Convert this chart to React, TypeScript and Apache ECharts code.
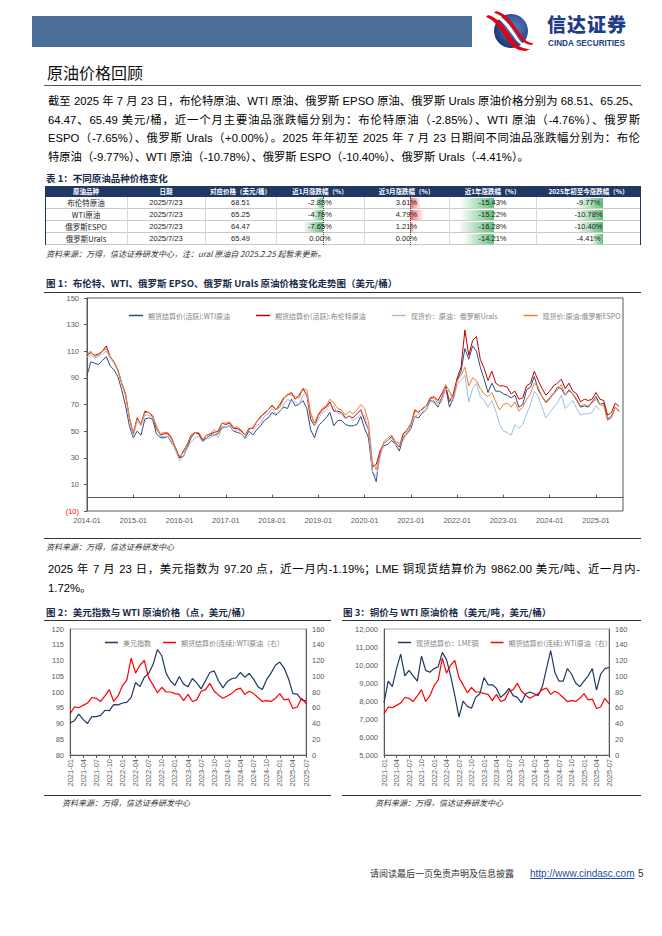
import React, { useEffect, useRef } from "react";
import * as echarts from "echarts";

// ---------- table data ----------
const oilNames = ["布伦特原油", "WTI原油", "俄罗斯ESPO", "俄罗斯Urals"];
const oilDates = ["2025/7/23", "2025/7/23", "2025/7/23", "2025/7/23"];
const oilPrices = ["68.51", "65.25", "64.47", "65.49"];
const chg1m = [-2.85, -4.76, -7.65, 0.0];
const chg3m = [3.61, 4.79, 1.21, 0.0];
const chg1y = [-15.43, -15.22, -16.28, -14.21];
const chgYtd = [-9.77, -10.78, -10.4, -4.41];
const tableHeaders = ["原油品种", "日期", "对应价格（美元/桶）", "近1月涨跌幅（%）", "近3月涨跌幅（%）", "近1年涨跌幅（%）", "2025年初至今涨跌幅（%）"];

// ---------- figure 1 data (monthly, 2014-01 .. 2025-07) ----------
const mainMonths: string[] = [];
for (let y = 2014; y <= 2025; y++) {
  for (let m = 1; m <= 12; m++) {
    if (y === 2025 && m > 8) break;
    mainMonths.push(`${y}-${m < 10 ? "0" + m : m}`);
  }
}
const mainYTicks = [-10, 10, 30, 50, 70, 90, 110, 130, 150];
const wti = [
  92, 102, 101, 100, 103, 106, 99, 96, 91, 81, 69, 54,
  45, 50, 47, 59, 60, 59, 48, 45, 45, 46, 41, 37,
  30, 31, 38, 45, 49, 48, 42, 45, 47, 47, 48, 53,
  53, 54, 50, 49, 48, 45, 50, 47, 51, 54, 58, 60,
  64, 62, 65, 68, 67, 74, 69, 70, 73, 67, 51, 45,
  54, 57, 60, 64, 54, 58, 58, 55, 54, 54, 55, 61,
  52, 45, 20, 12, 35, 39, 40, 43, 40, 35, 45, 48,
  52, 61, 60, 64, 66, 73, 72, 68, 75, 83, 68, 75,
  88, 95, 112, 104, 114, 110, 98, 89, 79, 86, 80, 80,
  78, 77, 75, 77, 68, 70, 81, 83, 91, 81, 76, 72,
  75, 78, 83, 82, 77, 81, 78, 73, 68, 69, 68, 72,
  76, 70, 71, 59, 61, 68, 65.25,
];
const brent = [
  107, 109, 107, 108, 110, 114, 106, 102, 96, 86, 78, 60,
  48, 60, 55, 65, 64, 61, 52, 47, 48, 48, 44, 37,
  30, 35, 40, 47, 49, 48, 43, 47, 48, 49, 50, 56,
  55, 56, 52, 52, 50, 47, 52, 52, 57, 61, 63, 66,
  69, 66, 70, 75, 77, 79, 74, 77, 82, 77, 59, 54,
  62, 66, 68, 72, 65, 65, 64, 60, 61, 60, 63, 66,
  58, 51, 23, 25, 35, 41, 43, 46, 41, 38, 48, 51,
  55, 66, 64, 67, 69, 75, 76, 73, 78, 84, 72, 78,
  90, 98, 126, 107, 118, 121, 104, 97, 88, 95, 86, 84,
  84, 83, 78, 80, 74, 75, 84, 86, 95, 88, 82, 77,
  80, 84, 86, 89, 82, 86, 80, 78, 72, 74, 73, 74,
  79, 74, 73, 62, 64, 71, 68.51,
];
const urals = [
  106, 107, 105, 106, 108, 110, 105, 101, 95, 85, 77, 59,
  46, 57, 54, 62, 62, 60, 54, 46, 46, 46, 42, 35,
  28, 31, 37, 42, 45, 46, 42, 44, 45, 48, 45, 52,
  53, 54, 50, 51, 48, 44, 47, 50, 54, 56, 61, 63,
  67, 63, 64, 70, 74, 72, 72, 70, 77, 78, 63, 54,
  59, 64, 66, 70, 69, 63, 63, 59, 62, 58, 60, 63,
  62, 51, 20, 16, 30, 41, 43, 45, 40, 39, 43, 49,
  54, 61, 63, 63, 66, 72, 73, 69, 72, 82, 79, 73,
  85, 88, 92, 72, 82, 86, 76, 73, 68, 73, 65, 55,
  50, 49, 47, 55, 52, 55, 63, 70, 80, 76, 68, 60,
  64, 68, 71, 77, 67, 70, 73, 67, 62, 63, 63, 64,
  69, 65.49, null, null, null, null, null,
];
const espo = [
  108, 110, 106, 107, 110, 112, 106, 102, 96, 86, 77, 60,
  49, 59, 55, 64, 64, 62, 54, 48, 49, 49, 45, 37,
  31, 34, 40, 46, 49, 49, 44, 47, 48, 51, 48, 56,
  56, 57, 53, 53, 51, 47, 51, 53, 57, 60, 64, 66,
  70, 66, 68, 74, 78, 77, 76, 75, 82, 81, 64, 56,
  63, 67, 69, 74, 71, 67, 66, 62, 65, 63, 66, 70,
  67, 57, 27, 21, 33, 42, 45, 47, 42, 41, 45, 51,
  56, 64, 65, 66, 69, 74, 75, 71, 75, 85, 80, 75,
  88, 92, 98, 84, 90, 88, 82, 78, 76, 79, 72, 66,
  70, 71, 68, 72, 65, 68, 74, 78, 86, 83, 76, 71,
  74, 78, 81, 85, 77, 80, 78, 74, 69, 70, 69, 71,
  74, 70, 69, 58, 60, 68, 64.47,
];

// ---------- figure 2 / 3 data (monthly, 2021-01 .. 2025-07) ----------
const smallMonths: string[] = [];
for (let y = 2021; y <= 2025; y++) {
  for (let m = 1; m <= 12; m++) {
    if (y === 2025 && m > 7) break;
    smallMonths.push(`${y}-${m < 10 ? "0" + m : m}`);
  }
}
const dxy = [
  90.2, 90.9, 93.0, 91.3, 90.0, 92.2, 92.2, 92.6, 94.2, 94.1, 96.0, 95.9,
  96.5, 96.7, 98.3, 103.0, 101.7, 104.7, 105.9, 108.7, 113.5, 111.5, 105.9, 103.5,
  102.1, 104.9, 102.5, 101.7, 104.3, 102.9, 101.0, 103.6, 106.2, 106.7, 103.5, 101.3,
  103.3, 104.2, 104.5, 106.2, 104.7, 105.9, 104.1, 101.7, 100.8, 104.0, 106.0, 108.5,
  109.5, 107.6, 104.2, 99.5, 99.3, 97.5, 97.2,
];
const wtiCont = [
  52, 61, 60, 63, 66, 73, 72, 68, 75, 83, 68, 75,
  88, 95, 123, 104, 114, 120, 98, 89, 79, 86, 80, 80,
  78, 77, 69, 77, 68, 70, 81, 83, 91, 81, 76, 72,
  75, 78, 83, 85, 77, 81, 78, 73, 68, 69, 68, 72,
  78, 70, 71, 59, 61, 72, 65.25,
];
const copper = [
  7900, 9100, 8800, 9800, 10600, 9400, 9700, 9400, 9100, 10500, 9700, 9600,
  9800, 9900, 10700, 10300, 9400, 8300, 7100, 8000, 7700, 7600, 8200, 8400,
  9300, 8900, 8900, 8700, 8200, 8400, 8700, 8300, 8200, 7900, 8400, 8500,
  8400, 8300, 8800, 9800, 10800, 9600, 9100, 9100, 9800, 9500, 9000, 8800,
  9100, 9400, 9800, 8600, 9500, 9800, 9862,
];

// ---------- page text ----------
const para1 = [
  "截至 2025 年 7 月 23 日，布伦特原油、WTI 原油、俄罗斯 EPSO 原油、俄罗斯 Urals 原油价格分别为 68.51、65.25、",
  "64.47、65.49 美元/桶，近一个月主要油品涨跌幅分别为：布伦特原油（-2.85%）、WTI 原油（-4.76%）、俄罗斯",
  "ESPO（-7.65%）、俄罗斯 Urals（+0.00%）。2025 年年初至 2025 年 7 月 23 日期间不同油品涨跌幅分别为：布伦",
  "特原油（-9.77%）、WTI 原油（-10.78%）、俄罗斯 ESPO（-10.40%）、俄罗斯 Urals（-4.41%）。",
];
const para2 = [
  "2025 年 7 月 23 日，美元指数为 97.20 点，近一月内-1.19%；LME 铜现货结算价为 9862.00 美元/吨、近一月内-",
  "1.72%。",
];

const GRAY = "#595959";
const FONT = '"Liberation Sans", "Noto Sans CJK SC", sans-serif';
const CJK = '"Noto Sans CJK SC", "Liberation Sans", sans-serif';

function useChart(option: any) {
  const ref = useRef<HTMLDivElement>(null);
  useEffect(() => {
    if (!ref.current) return;
    const c = echarts.init(ref.current, undefined, { renderer: "svg" });
    c.setOption(option);
    return () => c.dispose();
  }, []);
  return ref;
}

const isJan = (_i: number, v: string) => v.endsWith("-01");

function mainOption() {
  const line = (name: string, data: any[], color: string, z: number) => ({
    name, type: "line", data, showSymbol: false, symbol: "none", z,
    lineStyle: { width: 1, color }, itemStyle: { color }, xAxisIndex: 0, yAxisIndex: 0,
  });
  return {
    animation: false,
    grid: { left: 87, right: 39, top: 8, height: 213, show: true, borderColor: GRAY, borderWidth: 1 },
    legend: {
      top: 17, left: 124, width: 600, itemWidth: 14, itemHeight: 1.5, itemGap: 26, icon: "rect",
      textStyle: { color: "#7f7f7f", fontSize: 7, fontFamily: CJK },
      data: ["期货结算价(活跃):WTI原油", "期货结算价(活跃):布伦特原油", "现货价：原油：俄罗斯Urals", "现货价:原油:俄罗斯ESPO"],
    },
    xAxis: [
      {
        type: "category", data: mainMonths, boundaryGap: false,
        axisLine: { onZero: true, lineStyle: { color: GRAY, width: 1 } },
        axisTick: { show: true, inside: true, length: 3, interval: isJan, lineStyle: { color: GRAY } },
        axisLabel: { show: false }, splitLine: { show: false },
      },
      {
        type: "category", data: mainMonths, boundaryGap: false, position: "bottom",
        axisLine: { show: false, onZero: false }, axisTick: { show: false },
        axisLabel: { interval: isJan, color: GRAY, fontSize: 7.5, margin: 6, fontFamily: FONT },
        splitLine: { show: false },
      },
    ],
    yAxis: {
      type: "value", min: mainYTicks[0], max: mainYTicks[mainYTicks.length - 1], interval: 20,
      axisLine: { show: true, lineStyle: { color: GRAY } },
      axisTick: { show: true, length: 3, lineStyle: { color: GRAY } },
      splitLine: { show: false },
      axisLabel: {
        fontSize: 7.5, fontFamily: FONT, margin: 8,
        formatter: (v: number) => (v < 0 ? `(${-v})` : `${v}`),
        color: (v: any) => (Number(v) < 0 ? "#ff0000" : GRAY),
      },
    },
    series: [
      line("期货结算价(活跃):WTI原油", wti, "#2f4b7c", 2),
      line("期货结算价(活跃):布伦特原油", brent, "#c00000", 3),
      line("现货价：原油：俄罗斯Urals", urals, "#9dbde8", 4),
      line("现货价:原油:俄罗斯ESPO", espo, "#ed7d31", 5),
    ],
  };
}

function smallOption(leftName: string, leftData: number[], lmin: number, lmax: number, lint: number, gridLeft: number, gridWidth: number, legendLeft: number, thousands: boolean) {
  const labelStyle = { fontSize: 7.5, color: GRAY, fontFamily: FONT };
  return {
    animation: false,
    grid: { left: gridLeft, width: gridWidth, top: 8, height: 126, show: true, borderColor: "#a6a6a6", borderWidth: 1 },
    legend: {
      top: 13, left: legendLeft, itemWidth: 13, itemHeight: 1.5, itemGap: 12, icon: "rect",
      textStyle: { color: "#7f7f7f", fontSize: 7, fontFamily: CJK },
      data: [leftName, "期货结算价(连续):WTI原油（右）"],
    },
    xAxis: {
      type: "category", data: smallMonths, boundaryGap: false,
      axisLine: { lineStyle: { color: GRAY } },
      axisTick: { show: true, interval: 2, length: 3, lineStyle: { color: GRAY } },
      axisLabel: { ...labelStyle, rotate: 90, interval: 2, margin: 4 },
    },
    yAxis: [
      {
        type: "value", min: lmin, max: lmax, interval: lint,
        axisLine: { show: true, lineStyle: { color: GRAY } }, axisTick: { show: false }, splitLine: { show: false },
        axisLabel: { ...labelStyle, margin: 6, formatter: (v: number) => (thousands ? v.toLocaleString("en-US") : `${v}`) },
      },
      {
        type: "value", min: 0, max: 160, interval: 20, position: "right",
        axisLine: { show: true, lineStyle: { color: GRAY } }, axisTick: { show: false }, splitLine: { show: false },
        axisLabel: { ...labelStyle, margin: 6 },
      },
    ],
    series: [
      { name: leftName, type: "line", data: leftData, yAxisIndex: 0, showSymbol: false, symbol: "none", lineStyle: { width: 1.2, color: "#1f3864" }, itemStyle: { color: "#1f3864" } },
      { name: "期货结算价(连续):WTI原油（右）", type: "line", data: wtiCont, yAxisIndex: 1, showSymbol: false, symbol: "none", lineStyle: { width: 1.2, color: "#ff0000" }, itemStyle: { color: "#ff0000" } },
    ],
  };
}

function Logo() {
  return (
    <svg width="50" height="40" viewBox="0 0 50 40" style={{ position: "absolute", left: 484, top: 11 }}>
      <defs>
        <radialGradient id="lg" cx="0.6" cy="0.4" r="0.7">
          <stop offset="0" stopColor="#5a7fc0" />
          <stop offset="1" stopColor="#14306e" />
        </radialGradient>
      </defs>
      <circle cx="27" cy="20" r="17" fill="url(#lg)" />
      <path d="M4 4 C14 6 22 18 30 30 C34 36 40 38 46 38 L42 40 C34 40 28 36 24 30 C17 19 11 9 2 6 Z" fill="#e60012" />
      <path d="M9 2 C19 4 27 16 34 27 C38 33 43 35 48 35 L47 37 C41 37 36 34 32 29 C24 18 17 7 7 4 Z" fill="#ffffff" />
      <path d="M12 0 C22 2 30 13 37 24 C41 30 45 32 49 32 L48 34 C43 34 39 31 35 26 C27 15 20 4 10 2 Z" fill="#e60012" />
    </svg>
  );
}

function DataBar({ v, max, axis, width, pos }: { v: number; max: number; axis: number; width: number; pos: boolean }) {
  if (v === 0) return null;
  const len = (Math.abs(v) / max) * width;
  const color = pos ? "#f8696b" : "#63be7b";
  if (v < 0) {
    return <div style={{ position: "absolute", left: axis - len, width: len, top: 1, bottom: 1, background: `linear-gradient(to left, ${color}, #ffffff)` }} />;
  }
  return <div style={{ position: "absolute", left: axis, width: len, top: 1, bottom: 1, background: `linear-gradient(to right, ${color}, #ffffff)` }} />;
}

export default function App() {
  const mainRef = useChart(mainOption());
  const c2Ref = useChart(smallOption("美元指数", dxy, 80, 120, 5, 30, 236, 60, false));
  const c3Ref = useChart(smallOption("现货结算价：LME铜", copper, 5000, 12000, 1000, 53, 225, 62, true));

  const colX = [45, 127, 205, 276, 364, 449, 536, 641];
  const headerTop = 186;
  const rowH = 12;
  const abs = (s: any) => ({ position: "absolute" as const, ...s });
  const axis1m = 47;
  const axis3m = 46;

  const cellText = (x0: number, x1: number, top: number, text: string, extra: any = {}) => (
    <div style={abs({ left: x0, width: x1 - x0, top, height: rowH, lineHeight: rowH + "px", textAlign: "center", fontSize: 7.5, color: "#222", ...extra })}>{text}</div>
  );

  const fmt = (v: number) => v.toFixed(2) + "%";

  return (
    <div style={{ position: "absolute", left: 0, top: 0, width: 662, height: 936, background: "#fff", fontFamily: FONT, color: "#000", overflow: "hidden" }}>
      {/* header */}
      <div style={abs({ left: 32, top: 16, width: 440, height: 31, background: "#4a6e96" })} />
      <Logo />
      <div style={abs({ left: 547, top: 13, height: 22, lineHeight: "22px", fontFamily: CJK, fontWeight: 900, fontSize: 19, color: "#1f3c88", letterSpacing: 1 })}>信达证券</div>
      <div style={abs({ left: 548, top: 39, height: 9, lineHeight: "9px", fontFamily: FONT, fontWeight: 700, fontSize: 8.2, color: "#1f3c88" })}>CINDA SECURITIES</div>

      <div style={abs({ left: 47, top: 62, fontSize: 16, lineHeight: "20px", fontFamily: CJK, color: "#111" })}>原油价格回顾</div>
      <div style={abs({ left: 44, top: 85, width: 597, height: 1, background: "#555" })} />

      {para1.map((t, i) => (
        <div key={i} style={abs({ left: 48, top: 93 + i * 18.5, width: 592, fontSize: 11.3, lineHeight: "17px", fontFamily: FONT, textAlign: "justify", textAlignLast: i < para1.length - 1 ? "justify" : "left", whiteSpace: "nowrap" })}>{t}</div>
      ))}

      {/* table */}
      <div style={abs({ left: 46, top: 172, fontSize: 9.5, lineHeight: "12px", fontWeight: 700, fontFamily: CJK, color: "#1a2a4a" })}>表 1：不同原油品种价格变化</div>
      <div style={abs({ left: colX[0], top: headerTop, width: colX[7] - colX[0], height: 11, background: "#1f3864" })} />
      {tableHeaders.map((h, i) => (
        <div key={h} style={abs({ left: colX[i], width: colX[i + 1] - colX[i], top: headerTop, height: 11, lineHeight: "11px", textAlign: "center", color: "#fff", fontWeight: 700, fontSize: 6.5, fontFamily: CJK })}>{h}</div>
      ))}
      {oilNames.map((name, r) => {
        const top = headerTop + 11 + r * rowH;
        return (
          <React.Fragment key={name}>
            <div style={abs({ left: colX[0], top, width: colX[7] - colX[0], height: rowH, borderBottom: "1px solid #c9c9c9", boxSizing: "border-box" })} />
            <div style={abs({ left: colX[3], top, width: colX[4] - colX[3], height: rowH })}>
              <DataBar v={chg1m[r]} max={7.65} axis={axis1m} width={20} pos={false} />
            </div>
            <div style={abs({ left: colX[4], top, width: colX[5] - colX[4], height: rowH })}>
              <DataBar v={chg3m[r]} max={4.79} axis={axis3m} width={14} pos={true} />
            </div>
            <div style={abs({ left: colX[5], top, width: colX[6] - colX[5], height: rowH })}>
              <DataBar v={chg1y[r]} max={16.28} axis={45} width={36} pos={false} />
            </div>
            <div style={abs({ left: colX[6], top, width: colX[7] - colX[6], height: rowH })}>
              <DataBar v={chgYtd[r]} max={10.78} axis={67} width={29} pos={false} />
            </div>
            {cellText(colX[0], colX[1], top, name, { fontFamily: CJK })}
            {cellText(colX[1], colX[2], top, oilDates[r])}
            {cellText(colX[2], colX[3], top, oilPrices[r])}
            {cellText(colX[3], colX[4], top, fmt(chg1m[r]))}
            {cellText(colX[4], colX[5], top, fmt(chg3m[r]))}
            {cellText(colX[5], colX[6], top, fmt(chg1y[r]))}
            {cellText(colX[6], colX[7], top, fmt(chgYtd[r]))}
          </React.Fragment>
        );
      })}
      <div style={abs({ left: colX[3] + axis1m, top: headerTop + 11, width: 0, height: 4 * rowH, borderLeft: "1px dotted #444" })} />
      <div style={abs({ left: colX[4] + axis3m, top: headerTop + 11, width: 0, height: 4 * rowH, borderLeft: "1px dotted #444" })} />
      {[colX[0], colX[7]].map((x, i) => (
        <div key={i} style={abs({ left: x - (i ? 1 : 0), top: headerTop, width: 1, height: 11 + 4 * rowH, background: "#1f3864" })} />
      ))}
      {[1, 2, 3, 4, 5, 6].map((i) => (
        <div key={i} style={abs({ left: colX[i], top: headerTop + 11, width: 1, height: 4 * rowH, background: "#d9d9d9" })} />
      ))}
      <div style={abs({ left: 46, top: 248, fontSize: 8, lineHeight: "11px", fontStyle: "italic", fontFamily: CJK, color: "#333" })}>资料来源：万得，信达证券研发中心，注：ural 原油自 2025.2.25 起暂未更新。</div>

      {/* figure 1 */}
      <div style={abs({ left: 46, top: 277, fontSize: 9.5, lineHeight: "12px", fontWeight: 700, fontFamily: CJK, color: "#1a2a4a" })}>图 1：布伦特、WTI、俄罗斯 EPSO、俄罗斯 Urals 原油价格变化走势图（美元/桶）</div>
      <div style={abs({ left: 44, top: 292, width: 597, height: 1, background: "#333" })} />
      <div ref={mainRef} style={abs({ left: 0, top: 290, width: 662, height: 245 })} />
      <div style={abs({ left: 44, top: 538, width: 597, height: 1, background: "#333" })} />
      <div style={abs({ left: 46, top: 541, fontSize: 8, lineHeight: "11px", fontStyle: "italic", fontFamily: CJK, color: "#333" })}>资料来源：万得，信达证券研发中心</div>

      {para2.map((t, i) => (
        <div key={i} style={abs({ left: 48, top: 561 + i * 19, width: 592, fontSize: 11.3, lineHeight: "17px", fontFamily: FONT, textAlign: "justify", textAlignLast: i < para2.length - 1 ? "justify" : "left", whiteSpace: "nowrap" })}>{t}</div>
      ))}

      {/* figure 2 & 3 */}
      <div style={abs({ left: 46, top: 606, fontSize: 9.5, lineHeight: "12px", fontWeight: 700, fontFamily: CJK, color: "#1a2a4a" })}>图 2：美元指数与 WTI 原油价格（点，美元/桶）</div>
      <div style={abs({ left: 44, top: 620, width: 287, height: 1, background: "#333" })} />
      <div style={abs({ left: 343, top: 606, fontSize: 9.5, lineHeight: "12px", fontWeight: 700, fontFamily: CJK, color: "#1a2a4a" })}>图 3：铜价与 WTI 原油价格（美元/吨，美元/桶）</div>
      <div style={abs({ left: 342, top: 620, width: 299, height: 1, background: "#333" })} />
      <div ref={c2Ref} style={abs({ left: 40, top: 621, width: 300, height: 174 })} />
      <div ref={c3Ref} style={abs({ left: 331, top: 621, width: 320, height: 174 })} />
      <div style={abs({ left: 44, top: 795, width: 287, height: 1, background: "#333" })} />
      <div style={abs({ left: 342, top: 795, width: 299, height: 1, background: "#333" })} />
      <div style={abs({ left: 62, top: 797, fontSize: 8, lineHeight: "11px", fontStyle: "italic", fontFamily: CJK, color: "#333" })}>资料来源：万得，信达证券研发中心</div>
      <div style={abs({ left: 375, top: 797, fontSize: 8, lineHeight: "11px", fontStyle: "italic", fontFamily: CJK, color: "#333" })}>资料来源：万得，信达证券研发中心</div>

      {/* footer */}
      <div style={abs({ left: 370, top: 868, fontSize: 9, lineHeight: "12px", fontFamily: CJK, color: "#333" })}>请阅读最后一页免责声明及信息披露</div>
      <div style={abs({ left: 530, top: 867, fontSize: 10, lineHeight: "13px", fontFamily: FONT, color: "#1f4e9c", textDecoration: "underline" })}>http://www.cindasc.com</div>
      <div style={abs({ left: 638, top: 867, fontSize: 10, lineHeight: "13px", fontFamily: FONT, color: "#333" })}>5</div>
    </div>
  );
}
